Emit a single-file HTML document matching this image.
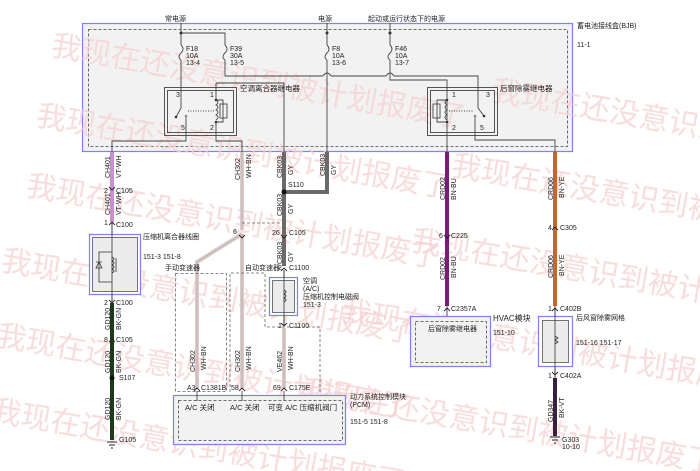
<!DOCTYPE html>
<html><head><meta charset="utf-8"><style>
html,body{margin:0;padding:0;background:#fff;width:700px;height:471px;overflow:hidden}
svg{display:block}
text{font-family:"Liberation Sans","Noto Sans CJK SC",sans-serif;font-size:7px;fill:#222}
.wm text{font-size:30px;fill:#f6d0d0;opacity:.7}
</style></head><body>
<svg width="700" height="471" viewBox="0 0 700 471" xmlns="http://www.w3.org/2000/svg">
<!-- BJB -->
<rect x="82.5" y="23.5" width="490" height="128" fill="#f2f2f2" stroke="#8080ff" stroke-width="1.2"/>
<rect x="88.5" y="29.5" width="479" height="117" fill="none" stroke="#444" stroke-dasharray="3,2" stroke-width="0.8"/>
<!-- watermarks -->
<g class="wm">
<text x="50" y="55" transform="rotate(10 50 55)">我现在还没意识到被计划报废了</text>
<text x="35" y="125" transform="rotate(10 35 125)">我现在还没意识到被计划报废了</text>
<text x="25" y="195" transform="rotate(10 25 195)">我现在还没意识到被计划报废了</text>
<text x="0" y="270" transform="rotate(10 0 270)">我现在还没意识到被计划报废了</text>
<text x="-5" y="345" transform="rotate(10 -5 345)">我现在还没意识到被计划报废了</text>
<text x="-10" y="420" transform="rotate(10 -10 420)">我现在还没意识到被计划报废了</text>
<text x="490" y="100" transform="rotate(10 490 100)">我现在还没意识到被计划报废了</text>
<text x="450" y="175" transform="rotate(10 450 175)">我现在还没意识到被计划报废了</text>
<text x="410" y="250" transform="rotate(10 410 250)">我现在还没意识到被计划报废了</text>
<text x="340" y="320" transform="rotate(10 340 320)">我现在还没意识到被计划报废了</text>
<text x="300" y="400" transform="rotate(10 300 400)">我现在还没意识到被计划报废了</text>
</g>
<text x="165" y="21">常电源</text>
<text x="318" y="21">电源</text>
<text x="368" y="21">起动或运行状态下的电源</text>
<text x="577" y="28">蓄电池接线盒(BJB)</text>
<text x="577" y="47">11-1</text>
<g stroke="#444" stroke-width="0.9" fill="none">
<path d="M181 23V45 M181 60V108 M181 33H225V45 M225 60V76H323 M331 76H386 M394 76H478V108"/>
<path d="M323 76q4 -6 8 0 M386 76q4 -6 8 0"/>
<path d="M327 23V45 M327 60V152"/>
<path d="M390 23V45 M390 60V80H447V152"/>
<path d="M181 45q4 4 0 8q-4 4 0 7 M225 45q4 4 0 8q-4 4 0 7 M327 45q4 4 0 8q-4 4 0 7 M390 45q4 4 0 8q-4 4 0 7"/>
<rect x="164.5" y="87.5" width="72" height="48"/><rect x="167.5" y="90.5" width="66" height="42"/>
<path d="M181 108L176 117 M186 117V141H112V152 M216 83V100 M216 122V141H242V152 M216 83H284V152"/>
<path d="M216 100q4 2 0 5q4 2 0 5q4 2 0 5q4 2 0 5 M216 100H223V122H216"/>
<rect x="220" y="104" width="7" height="14"/>
<path d="M188 111H214" stroke-dasharray="1,1.5"/>
<rect x="427.5" y="87.5" width="70" height="48"/><rect x="430.5" y="90.5" width="64" height="42"/>
<path d="M447 100q-4 2 0 5q-4 2 0 5q-4 2 0 5q-4 2 0 5 M447 100H437V122H447"/>
<rect x="433" y="104" width="7" height="14"/>
<path d="M478 108L484 116 M475 117V140H555V152"/>
<path d="M449 111H474" stroke-dasharray="1,1.5"/>
</g>
<g fill="#333">
<circle cx="181" cy="33" r="1.5"/><circle cx="327" cy="33" r="1.5"/><circle cx="390" cy="33" r="1.5"/>
<circle cx="176" cy="117" r="1.3"/><circle cx="186" cy="116" r="1.3" fill="#888"/><circle cx="216" cy="100" r="1.3"/><circle cx="216" cy="122" r="1.3"/>
<circle cx="447" cy="100" r="1.3"/><circle cx="447" cy="122" r="1.3"/><circle cx="484" cy="116" r="1.3"/><circle cx="475" cy="116" r="1.3" fill="#888"/>
</g>
<text x="186" y="51">F18</text><text x="186" y="58">10A</text><text x="186" y="65">13-4</text>
<text x="230" y="51">F39</text><text x="230" y="58">30A</text><text x="230" y="65">13-5</text>
<text x="332" y="51">F8</text><text x="332" y="58">10A</text><text x="332" y="65">13-6</text>
<text x="395" y="51">F46</text><text x="395" y="58">10A</text><text x="395" y="65">13-7</text>
<text x="240" y="91" style="font-size:7.5px">空调离合器继电器</text>
<text x="176" y="97">3</text><text x="210" y="97">1</text><text x="181" y="130">5</text><text x="210" y="130">2</text>
<text x="500" y="91" style="font-size:7.5px">后窗除雾继电器</text>
<text x="452" y="97">1</text><text x="486" y="97">3</text><text x="452" y="130">2</text><text x="480" y="130">5</text>

<g fill="none">
<path d="M112 152V222" stroke="#c98fd0" stroke-width="4"/>
<path d="M112 222V303" stroke="#444" stroke-width="0.9"/>
<path d="M112 303V440" stroke="#1c3a1c" stroke-width="4"/>
<path d="M242 152V230 M242 234V388 M242 234L197 262V388" stroke="#d0d0d0" stroke-width="4"/>
<path d="M242 152V230 M242 234V388 M242 234L197 262V388" stroke="#e49090" stroke-width="0.7"/>
<path d="M284 152V266 M284 192H327V152" stroke="#6a6a6a" stroke-width="4"/>
<path d="M284 270V326" stroke="#444" stroke-width="0.9"/>
<path d="M284 328V388" stroke="#d0d0d0" stroke-width="4"/>
<path d="M284 328V388" stroke="#e49090" stroke-width="0.7"/>
<path d="M447 152V306" stroke="#7a1a7a" stroke-width="4"/>
<path d="M447 306V320" stroke="#444" stroke-width="0.9"/>
<path d="M555 152V306" stroke="#cc6428" stroke-width="4"/>
<path d="M555 306V378" stroke="#444" stroke-width="0.9"/>
<path d="M555 378V436" stroke="#3a2040" stroke-width="4"/>
<path d="M242 223H284" stroke="#666" stroke-width="0.8" stroke-dasharray="3,2"/>
</g>
<circle cx="284" cy="192" r="2.5" fill="#111"/>
<circle cx="112" cy="378" r="2.5" fill="#111"/>
<g stroke="#222" stroke-width="0.9" fill="none">
<path d="M109 187l3 3l3-3 M109 225l3-3l3 3 M109 300l3 3l3-3 M109 342l3-3l3 3 M239 235l3 3l3-3 M281 235l3 3l3-3 M281 271l3-3l3 3 M281 323l3 3l3-3 M194 391l3-3l3 3 M239 391l3-3l3 3 M281 391l3-3l3 3 M444 235l3 3l3-3 M444 311l3-3l3 3 M552 230l3-3l3 3 M552 311l3-3l3 3 M552 372l3 3l3-3"/>
<path d="M107 442h10 M109 445h6 M111 448h2 M550 437h10 M552 440h6 M554 443h2"/>
</g>
<g style="font-size:6.5px">
<text transform="translate(110,178) rotate(-90)">CH401</text><text transform="translate(121,178) rotate(-90)">VT-WH</text>
<text transform="translate(110,215) rotate(-90)">CH401</text><text transform="translate(121,215) rotate(-90)">VT-WH</text>
<text transform="translate(240,180) rotate(-90)">CH302</text><text transform="translate(251,178) rotate(-90)">WH-BN</text>
<text transform="translate(282,178) rotate(-90)">CBK03</text><text transform="translate(293,175) rotate(-90)">GY</text>
<text transform="translate(325,176) rotate(-90)">CBK03</text><text transform="translate(336,175) rotate(-90)">GY</text>
<text transform="translate(282,216) rotate(-90)">CBK03</text><text transform="translate(293,214) rotate(-90)">GY</text>
<text transform="translate(282,264) rotate(-90)">CBK03</text><text transform="translate(293,262) rotate(-90)">GY</text>
<text transform="translate(110,330) rotate(-90)">GD120</text><text transform="translate(121,330) rotate(-90)">BK-GN</text>
<text transform="translate(110,373) rotate(-90)">GD120</text><text transform="translate(121,373) rotate(-90)">BK-GN</text>
<text transform="translate(110,420) rotate(-90)">GD120</text><text transform="translate(121,420) rotate(-90)">BK-GN</text>
<text transform="translate(195,372) rotate(-90)">CH302</text><text transform="translate(206,370) rotate(-90)">WH-BN</text>
<text transform="translate(240,372) rotate(-90)">CH302</text><text transform="translate(251,370) rotate(-90)">WH-BN</text>
<text transform="translate(282,372) rotate(-90)">VE462</text><text transform="translate(293,370) rotate(-90)">WH-BN</text>
<text transform="translate(445,200) rotate(-90)">CRD02</text><text transform="translate(456,200) rotate(-90)">BN-BU</text>
<text transform="translate(445,280) rotate(-90)">CRD02</text><text transform="translate(456,278) rotate(-90)">BN-BU</text>
<text transform="translate(553,200) rotate(-90)">CRD06</text><text transform="translate(564,198) rotate(-90)">BN-YE</text>
<text transform="translate(553,278) rotate(-90)">CRD06</text><text transform="translate(564,276) rotate(-90)">BN-YE</text>
<text transform="translate(553,422) rotate(-90)">GD347</text><text transform="translate(564,418) rotate(-90)">BK-VT</text>
</g>
<text x="104" y="193">2</text><text x="116" y="193">C105</text>
<text x="104" y="225">1</text><text x="116" y="227">C100</text>
<text x="104" y="305">2</text><text x="116" y="305">C100</text>
<text x="104" y="342">8</text><text x="116" y="342">C105</text>
<text x="119" y="380">S107</text>
<text x="119" y="442">G105</text>
<text x="288" y="187">S110</text>
<text x="233" y="234">6</text>
<text x="272" y="235">26</text><text x="289" y="235">C105</text>
<text x="278" y="270">2</text><text x="289" y="270">C1100</text>
<text x="278" y="328">1</text><text x="289" y="328">C1100</text>
<text x="187" y="390">A3</text><text x="201" y="390">C1381B</text>
<text x="231" y="390">58</text>
<text x="273" y="390">69</text><text x="289" y="390">C175E</text>
<text x="439" y="238">6</text><text x="451" y="238">C225</text>
<text x="437" y="311">7</text><text x="451" y="311">C2357A</text>
<text x="548" y="230">4</text><text x="560" y="230">C305</text>
<text x="548" y="311">1</text><text x="560" y="311">C402B</text>
<text x="548" y="378">1</text><text x="560" y="378">C402A</text>
<text x="562" y="442">G303</text><text x="562" y="449">10-10</text>

<rect x="89.5" y="234.5" width="51" height="60" fill="#fff" stroke="#8080ff" stroke-width="1.2"/>
<rect x="92.5" y="237.5" width="45" height="54" fill="#ececec" stroke="#555" stroke-width="0.8"/>
<g stroke="#333" stroke-width="0.8" fill="none">
<path d="M112 222V303 M112 252H99V282H112 M99 262l-3 6h6z M96 262h6 M112 257q4 2 0 4q4 2 0 4q4 2 0 4q4 2 0 4 M116 258v14"/>
</g>
<text x="143" y="239">压缩机离合器线圈</text>
<text x="143" y="259">151-3 151-8</text>
<g fill="none" stroke="#666" stroke-width="0.8" stroke-dasharray="3,2">
<rect x="175.5" y="273.5" width="51" height="118"/>
<path d="M230 392V273H265V327H320V392"/>
</g>
<text x="165" y="270">手动变速器</text>
<text x="245" y="270">自动变速器</text>
<rect x="269.5" y="277.5" width="28" height="38" fill="#fff" stroke="#8080ff" stroke-width="1.2"/>
<rect x="272.5" y="280.5" width="22" height="32" fill="#ececec" stroke="#555" stroke-width="0.8"/>
<path d="M284 270V326 M284 290q4 2 0 4q4 2 0 4q4 2 0 4" stroke="#333" stroke-width="0.8" fill="none"/>
<text x="303" y="283">空调</text><text x="303" y="291">(A/C)</text><text x="303" y="299">压缩机控制电磁阀</text>
<text x="303" y="307">151-3</text>
<rect x="173.5" y="395.5" width="172" height="49" fill="#f2f2f2" stroke="#8080ff" stroke-width="1.2"/>
<rect x="178.5" y="400.5" width="164" height="40" fill="none" stroke="#444" stroke-width="0.8" stroke-dasharray="3,2"/>
<path d="M197 391V401 M242 391V401 M284 391V401" stroke="#333" stroke-width="0.8"/>
<text x="185" y="410" style="font-size:7.5px">A/C 关闭</text>
<text x="230" y="410" style="font-size:7.5px">A/C 关闭</text>
<text x="268" y="410" style="font-size:7.5px">可变 A/C 压缩机阀门</text>
<text x="350" y="399">动力系统控制模块</text><text x="350" y="407">(PCM)</text>
<text x="350" y="424">151-5 151-8</text>
<rect x="410.5" y="316.5" width="80" height="50" fill="#f2f2f2" stroke="#8080ff" stroke-width="1.2"/>
<rect x="415.5" y="321.5" width="71" height="41" fill="none" stroke="#444" stroke-width="0.8" stroke-dasharray="3,2"/>
<text x="428" y="331">后窗除雾继电器</text>
<text x="493" y="321" style="font-size:8px">HVAC模块</text>
<text x="493" y="335">151-10</text>
<rect x="538.5" y="316.5" width="34" height="50" fill="#fff" stroke="#8080ff" stroke-width="1.2"/>
<rect x="542.5" y="320.5" width="26" height="42" fill="#ececec" stroke="#555" stroke-width="0.8"/>
<path d="M555 306V378 M555 336l3 2l-3 2l3 2l-3 2" stroke="#333" stroke-width="0.8" fill="none"/>
<text x="576" y="320">后风窗除雾网格</text>
<text x="576" y="345">151-16 151-17</text>
</svg>
</body></html>
